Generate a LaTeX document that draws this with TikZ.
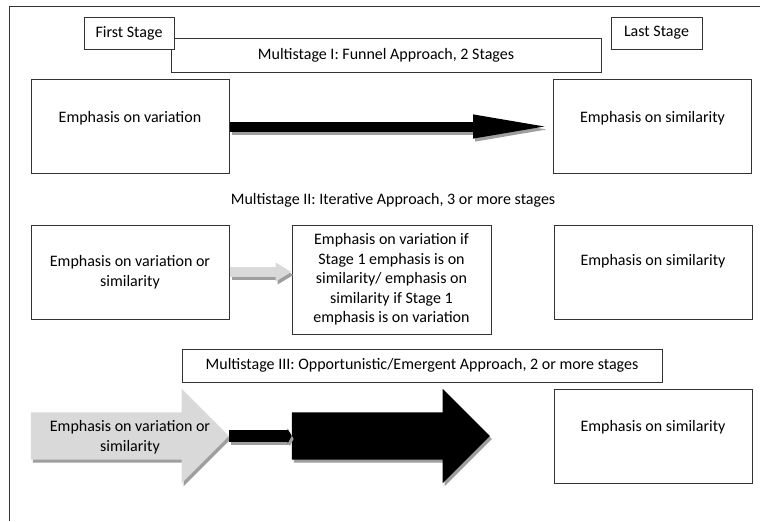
\documentclass[tikz,border=0pt]{standalone}
\usepackage{fontspec}
\setmainfont{Carlito}
\usepackage{xcolor}
\usetikzlibrary{shapes.arrows, arrows.meta, positioning, shadows}
\definecolor{lightgrey}{gray}{0.85}
\definecolor{shadowgrey}{gray}{0.62}
\definecolor{framegrey}{gray}{0.2}
\tikzstyle{stagebox} = [rectangle, draw=framegrey, line width=0.75pt, fill=white, inner sep=0pt, text centered]
\tikzstyle{emphbox} = [stagebox, minimum width=148.5pt, minimum height=71pt]
\tikzstyle{plain} = [inner sep=2pt, align=center]
\tikzstyle{fatarrow} = [line width=7.5pt, -{Triangle[length=60pt, width=15.75pt]}]
\tikzstyle{thinarrow} = [line width=7.5pt, -{Triangle[length=12pt, width=13.5pt]}]
\tikzstyle{stubarrow} = [line width=9pt, -{Triangle[length=3pt, width=11pt]}]
\tikzstyle{blockarrow} = [single arrow, minimum height=148.5pt, minimum width=70.5pt, single arrow head extend=17.6pt, inner xsep=0pt, inner ysep=17.6pt, drop shadow={shadow xshift=1.5pt, shadow yshift=-2.25pt, fill=shadowgrey, opacity=1}]
\tikzstyle{shade} = [shadowgrey, transform canvas={shift={(1.5pt,-2.25pt)}}]

\begin{document}
\begin{tikzpicture}[x=0.75pt, y=-0.75pt, font=\fontsize{12pt}{14.6pt}\selectfont]
        \useasboundingbox (0,0) rectangle (760,521);
        \draw [framegrey, line width=0.75pt] (760,6) -| (9,521);

        % Multistage I
        \node (approach1) [stagebox, minimum width=322.5pt, minimum height=25.5pt] at (386,55) {Multistage I: Funnel Approach, 2 Stages};
        \node (first) [stagebox, minimum width=67.5pt, minimum height=24pt] at (129,33) {First Stage};
        \node (last) [stagebox, minimum width=68.25pt, minimum height=24pt] at (656.5,33) {Last Stage};
        \node (var1) [emphbox] at (130,126.5) {};
        \node (sim1) [emphbox] at (652.5,126.5) {};
        \node (var1txt) [plain, below=22pt of var1.north] {Emphasis on variation};
        \node (sim1txt) [plain, below=22pt of sim1.north] {Emphasis on similarity};

        % Multistage II
        \node (title2) [plain] at (393,200) {Multistage II: Iterative Approach, 3 or more stages};
        \node (varsim2) [emphbox, minimum height=70.5pt, align=center] at (130,272) {Emphasis on variation or\\similarity};
        \node (mid2) [stagebox, minimum width=149.25pt, minimum height=81.75pt, align=center] at (391.5,279.5) {Emphasis on variation if\\Stage 1 emphasis is on\\similarity/ emphasis on\\similarity if Stage 1\\emphasis is on variation};
        \node (sim2) [emphbox, minimum height=70.5pt] at (653,272) {};
        \node (sim2txt) [plain, below=20.5pt of sim2.north] {Emphasis on similarity};

        % Multistage III
        \node (approach3) [stagebox, minimum width=360pt, minimum height=24.75pt] at (422,365.5) {Multistage III: Opportunistic/Emergent Approach, 2 or more stages};
        \node (greyarr) [blockarrow, fill=lightgrey] at (118,436) {};
        \node (greytxt) [plain] at (130,437) {Emphasis on variation or\\similarity};
        \node (bigarr) [blockarrow, fill=black] at (379,436) {};
        \node (sim3) [emphbox, minimum height=70.5pt] at (653,436) {};
        \node (sim3txt) [plain, below=22pt of sim3.north] {Emphasis on similarity};


        \draw [fatarrow, shade] (var1.east) -- (sim1.west);
        \draw [fatarrow] (var1.east) -- (sim1.west);
        \draw [thinarrow, shade] (varsim2.east) -- (varsim2.east -| mid2.west);
        \draw [thinarrow, lightgrey] (varsim2.east) -- (varsim2.east -| mid2.west);
        \draw [stubarrow, shade] (greyarr.tip) -- (bigarr.tail);
        \draw [stubarrow] (greyarr.tip) -- (bigarr.tail);


    \end{tikzpicture}
\end{document}
